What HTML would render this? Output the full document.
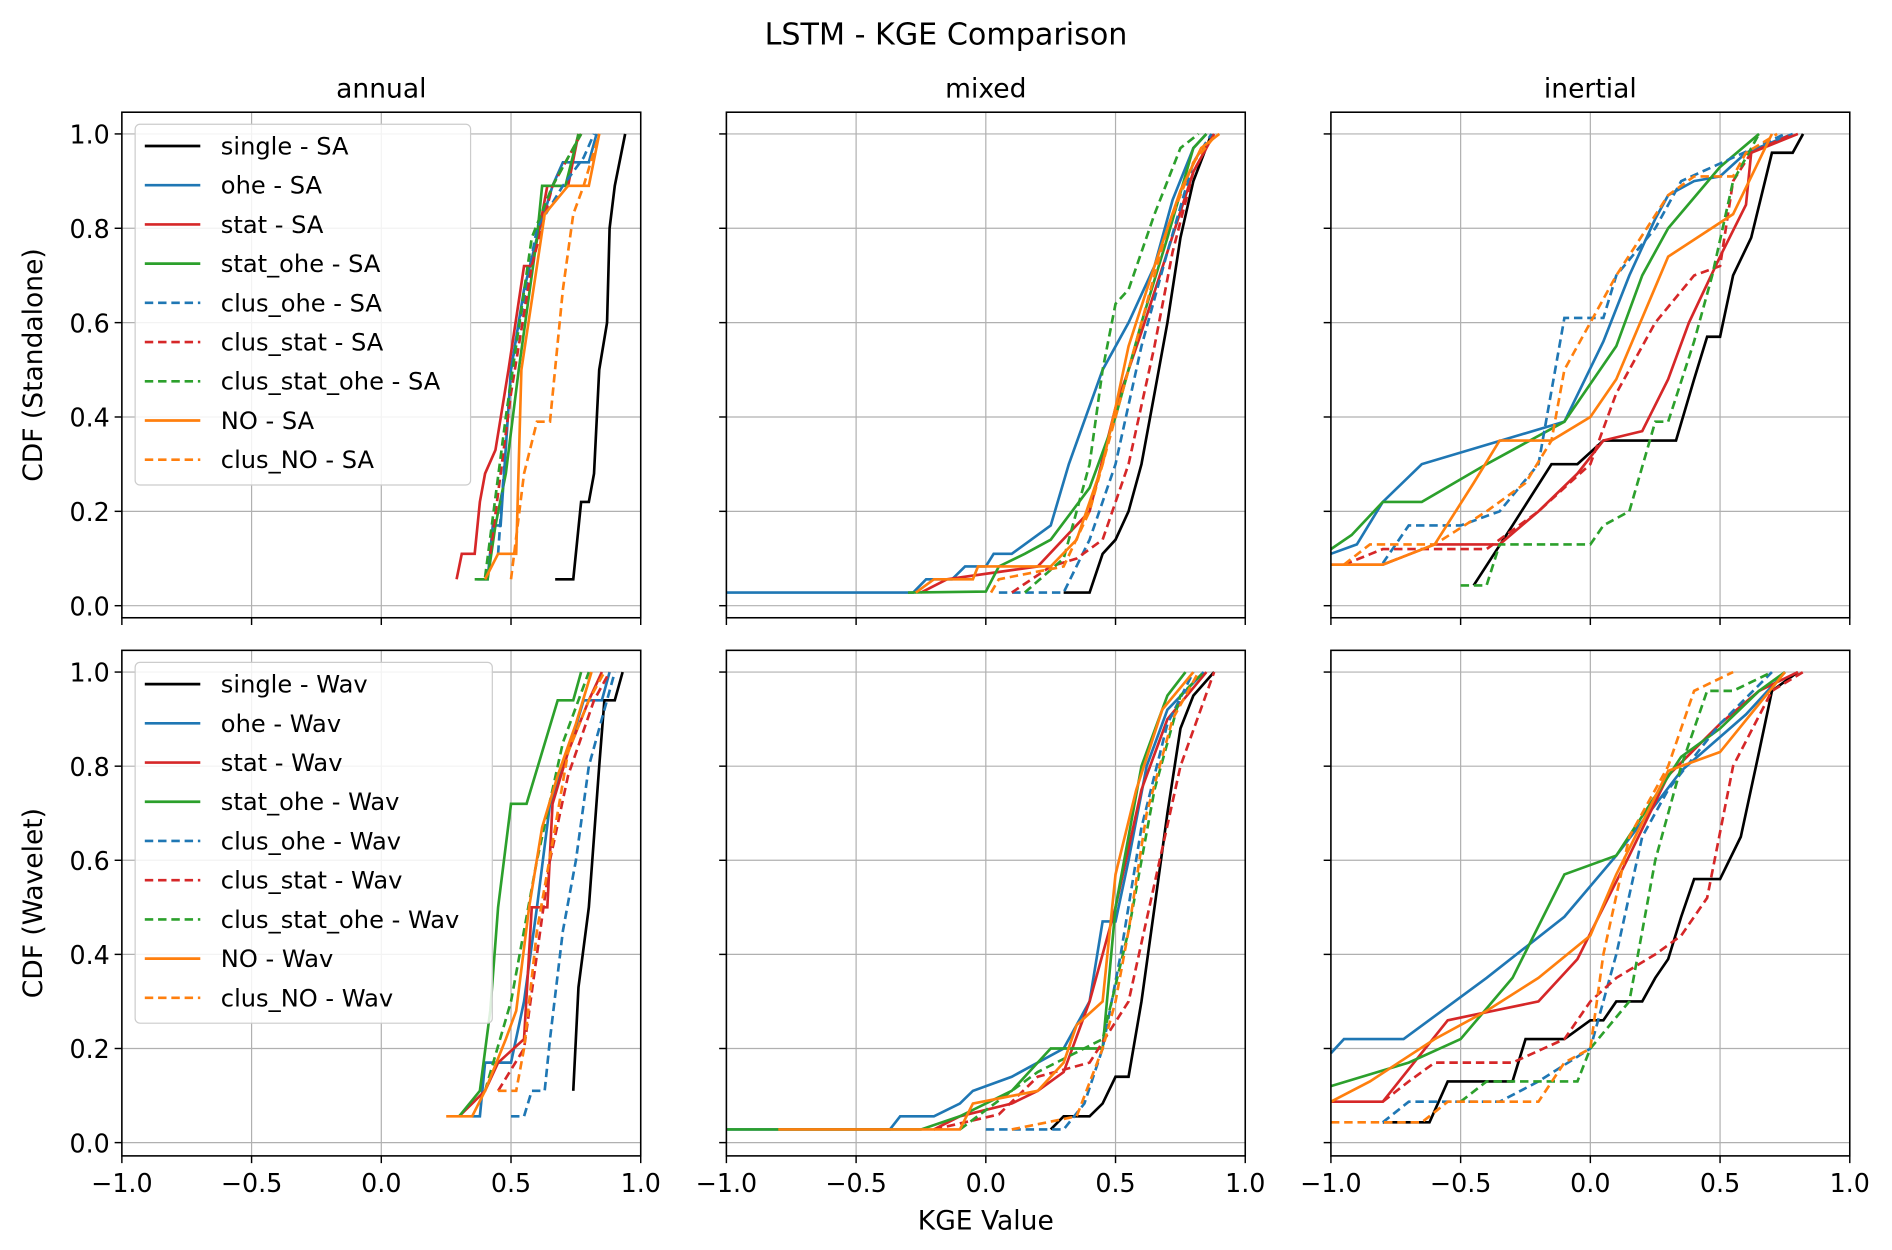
<!DOCTYPE html>
<html><head><meta charset="utf-8"><style>
html,body{margin:0;padding:0;background:#fff}
svg{display:block}
text{font-family:"DejaVu Sans","Liberation Sans",sans-serif;fill:#000}
</style></head><body>
<svg id="chart" width="1892" height="1250" viewBox="0 0 1568 1036" preserveAspectRatio="none" xmlns="http://www.w3.org/2000/svg">
<text x="784" y="37" font-size="25" text-anchor="middle">LSTM - KGE Comparison</text>
<g id="g"></g>
</svg>
<script>
// ---- data ----
const seriesNames = ["single","ohe","stat","stat_ohe","clus_ohe","clus_stat","clus_stat_ohe","NO","clus_NO"];
const seriesColors = ["#000000","#1f77b4","#d62728","#2ca02c","#1f77b4","#d62728","#2ca02c","#ff7f0e","#ff7f0e"];
const seriesDashed = [false,false,false,false,true,true,true,false,true];
const colTitles = ["annual","mixed","inertial"];
const rowTitles = ["CDF (Standalone)","CDF (Wavelet)"];
const rowSuffix = ["SA","Wav"];
const xTicks = [-1.0,-0.5,0.0,0.5,1.0];
const yTicks = [0.0,0.2,0.4,0.6,0.8,1.0];

const saAnnual = [
 [[0.67,0.056],[0.74,0.056],[0.77,0.22],[0.8,0.22],[0.82,0.28],[0.84,0.5],[0.87,0.6],[0.88,0.8],[0.9,0.89],[0.94,1.0]],
 [[0.37,0.056],[0.41,0.056],[0.43,0.17],[0.46,0.17],[0.5,0.5],[0.55,0.67],[0.6,0.78],[0.66,0.89],[0.7,0.94],[0.8,0.94],[0.83,1.0]],
 [[0.29,0.056],[0.31,0.11],[0.36,0.11],[0.38,0.22],[0.4,0.28],[0.44,0.33],[0.49,0.5],[0.55,0.72],[0.58,0.72],[0.62,0.83],[0.64,0.89],[0.72,0.89],[0.76,1.0]],
 [[0.36,0.056],[0.41,0.056],[0.44,0.17],[0.48,0.28],[0.53,0.5],[0.6,0.78],[0.62,0.89],[0.71,0.89],[0.76,1.0]],
 [[0.45,0.11],[0.5,0.5],[0.6,0.8],[0.7,0.89],[0.78,0.95],[0.82,1.0]],
 [[0.42,0.11],[0.5,0.45],[0.58,0.72],[0.66,0.89],[0.77,1.0]],
 [[0.4,0.06],[0.48,0.4],[0.58,0.78],[0.66,0.89],[0.77,1.0]],
 [[0.4,0.056],[0.45,0.11],[0.52,0.11],[0.54,0.5],[0.6,0.72],[0.63,0.83],[0.72,0.89],[0.8,0.89],[0.84,1.0]],
 [[0.5,0.056],[0.55,0.28],[0.6,0.39],[0.65,0.39],[0.7,0.67],[0.74,0.83],[0.78,0.89],[0.84,1.0]]
];
const saMixed = [
 [[0.3,0.028],[0.4,0.028],[0.45,0.11],[0.5,0.14],[0.55,0.2],[0.6,0.3],[0.65,0.45],[0.7,0.6],[0.75,0.78],[0.8,0.9],[0.87,1.0]],
 [[-1,0.028],[-0.28,0.028],[-0.23,0.056],[-0.13,0.056],[-0.08,0.083],[0,0.083],[0.03,0.11],[0.1,0.11],[0.25,0.17],[0.32,0.3],[0.45,0.5],[0.55,0.6],[0.65,0.72],[0.72,0.86],[0.8,0.97],[0.85,1.0]],
 [[-0.25,0.028],[-0.15,0.056],[0.2,0.083],[0.4,0.2],[0.5,0.42],[0.55,0.5],[0.6,0.58],[0.7,0.75],[0.8,0.92],[0.88,1.0]],
 [[-0.3,0.028],[0,0.03],[0.05,0.083],[0.15,0.11],[0.25,0.14],[0.4,0.25],[0.5,0.4],[0.6,0.6],[0.7,0.78],[0.8,0.97],[0.85,1.0]],
 [[0.05,0.028],[0.3,0.028],[0.4,0.14],[0.5,0.3],[0.6,0.55],[0.7,0.75],[0.8,0.94],[0.87,1.0]],
 [[0.1,0.028],[0.25,0.083],[0.35,0.1],[0.45,0.14],[0.55,0.3],[0.65,0.55],[0.72,0.75],[0.8,0.92],[0.88,1.0]],
 [[0.15,0.028],[0.3,0.1],[0.4,0.3],[0.45,0.5],[0.5,0.64],[0.55,0.67],[0.65,0.83],[0.75,0.97],[0.82,1.0]],
 [[-0.27,0.028],[-0.2,0.056],[-0.05,0.056],[-0.03,0.083],[0.25,0.083],[0.35,0.14],[0.45,0.3],[0.5,0.42],[0.55,0.55],[0.65,0.72],[0.75,0.88],[0.83,0.97],[0.9,1.0]],
 [[0.02,0.028],[0.05,0.056],[0.3,0.083],[0.4,0.2],[0.5,0.4],[0.6,0.6],[0.7,0.8],[0.8,0.94],[0.89,1.0]]
];
const saInertial = [
 [[-0.45,0.043],[-0.3,0.17],[-0.15,0.3],[-0.05,0.3],[0.05,0.35],[0.33,0.35],[0.4,0.48],[0.45,0.57],[0.5,0.57],[0.55,0.7],[0.62,0.78],[0.7,0.96],[0.78,0.96],[0.82,1.0]],
 [[-1,0.11],[-0.9,0.13],[-0.8,0.22],[-0.65,0.3],[-0.1,0.39],[0.05,0.56],[0.15,0.7],[0.25,0.82],[0.3,0.87],[0.4,0.9],[0.5,0.91],[0.6,0.96],[0.78,1.0]],
 [[-1,0.087],[-0.8,0.087],[-0.6,0.13],[-0.35,0.13],[-0.2,0.2],[-0.05,0.28],[0.05,0.35],[0.2,0.37],[0.3,0.48],[0.38,0.6],[0.5,0.74],[0.6,0.85],[0.62,0.96],[0.8,1.0]],
 [[-1,0.12],[-0.92,0.15],[-0.8,0.22],[-0.65,0.22],[-0.4,0.3],[-0.1,0.39],[0.1,0.55],[0.2,0.7],[0.3,0.8],[0.5,0.93],[0.65,1.0]],
 [[-0.8,0.09],[-0.7,0.17],[-0.5,0.17],[-0.35,0.2],[-0.2,0.3],[-0.1,0.61],[0.05,0.61],[0.1,0.7],[0.25,0.8],[0.35,0.9],[0.55,0.95],[0.75,1.0]],
 [[-0.95,0.087],[-0.8,0.12],[-0.4,0.12],[-0.2,0.2],[0,0.3],[0.1,0.45],[0.25,0.6],[0.4,0.7],[0.5,0.72],[0.55,0.9],[0.62,0.96],[0.78,1.0]],
 [[-0.5,0.043],[-0.4,0.043],[-0.35,0.13],[0,0.13],[0.05,0.17],[0.15,0.2],[0.25,0.39],[0.3,0.39],[0.4,0.56],[0.47,0.7],[0.55,0.9],[0.65,1.0]],
 [[-1,0.087],[-0.8,0.087],[-0.6,0.13],[-0.45,0.26],[-0.35,0.35],[-0.15,0.35],[0,0.4],[0.1,0.48],[0.3,0.74],[0.55,0.83],[0.7,1.0]],
 [[-0.95,0.087],[-0.85,0.13],[-0.6,0.13],[-0.4,0.2],[-0.25,0.26],[-0.15,0.35],[-0.1,0.5],[0,0.6],[0.1,0.7],[0.3,0.87],[0.4,0.91],[0.55,0.91],[0.6,0.96],[0.72,1.0]]
];
const wavAnnual = [
 [[0.74,0.11],[0.76,0.33],[0.8,0.5],[0.84,0.8],[0.86,0.94],[0.9,0.94],[0.93,1.0]],
 [[0.35,0.056],[0.38,0.056],[0.4,0.17],[0.5,0.17],[0.55,0.3],[0.6,0.5],[0.65,0.72],[0.72,0.83],[0.78,0.94],[0.85,0.94],[0.88,1.0]],
 [[0.3,0.056],[0.4,0.11],[0.45,0.17],[0.55,0.22],[0.58,0.5],[0.64,0.5],[0.66,0.72],[0.72,0.83],[0.8,0.94],[0.85,1.0]],
 [[0.3,0.056],[0.38,0.11],[0.42,0.28],[0.45,0.5],[0.5,0.72],[0.56,0.72],[0.62,0.83],[0.68,0.94],[0.74,0.94],[0.77,1.0]],
 [[0.5,0.056],[0.55,0.056],[0.58,0.11],[0.63,0.11],[0.65,0.22],[0.7,0.45],[0.75,0.6],[0.8,0.8],[0.9,1.0]],
 [[0.45,0.11],[0.55,0.2],[0.6,0.4],[0.65,0.6],[0.72,0.78],[0.82,0.94],[0.88,1.0]],
 [[0.4,0.11],[0.5,0.3],[0.6,0.6],[0.7,0.85],[0.8,1.0]],
 [[0.25,0.056],[0.35,0.056],[0.4,0.11],[0.48,0.22],[0.52,0.28],[0.57,0.5],[0.62,0.67],[0.68,0.78],[0.75,0.89],[0.81,1.0]],
 [[0.45,0.11],[0.52,0.11],[0.55,0.2],[0.6,0.45],[0.67,0.67],[0.72,0.83],[0.8,0.94],[0.86,1.0]]
];
const wavMixed = [
 [[0.25,0.028],[0.3,0.056],[0.4,0.056],[0.45,0.083],[0.5,0.14],[0.55,0.14],[0.6,0.3],[0.65,0.5],[0.7,0.7],[0.75,0.88],[0.8,0.95],[0.88,1.0]],
 [[-1,0.028],[-0.37,0.028],[-0.33,0.056],[-0.2,0.056],[-0.1,0.083],[-0.05,0.11],[0.1,0.14],[0.3,0.2],[0.4,0.3],[0.45,0.47],[0.5,0.47],[0.55,0.6],[0.62,0.8],[0.7,0.92],[0.84,1.0]],
 [[-0.2,0.028],[-0.1,0.056],[0.1,0.083],[0.2,0.11],[0.3,0.15],[0.4,0.3],[0.5,0.5],[0.6,0.75],[0.7,0.9],[0.85,1.0]],
 [[-1,0.028],[-0.25,0.028],[-0.1,0.056],[0.1,0.11],[0.2,0.17],[0.25,0.2],[0.45,0.2],[0.5,0.5],[0.6,0.8],[0.7,0.95],[0.77,1.0]],
 [[0,0.028],[0.3,0.028],[0.38,0.083],[0.45,0.2],[0.52,0.4],[0.6,0.67],[0.7,0.89],[0.8,1.0]],
 [[-0.2,0.028],[0.05,0.06],[0.2,0.14],[0.4,0.17],[0.55,0.3],[0.65,0.55],[0.75,0.8],[0.88,1.0]],
 [[-0.1,0.028],[0.1,0.11],[0.2,0.15],[0.45,0.22],[0.55,0.45],[0.65,0.75],[0.75,0.95],[0.84,1.0]],
 [[-0.8,0.028],[-0.1,0.028],[-0.05,0.083],[0.2,0.11],[0.3,0.17],[0.35,0.25],[0.45,0.3],[0.5,0.57],[0.58,0.75],[0.68,0.92],[0.8,1.0]],
 [[0.1,0.028],[0.35,0.056],[0.45,0.2],[0.5,0.3],[0.55,0.45],[0.62,0.7],[0.72,0.9],[0.82,1.0]]
];
const wavInertial = [
 [[-0.8,0.043],[-0.62,0.043],[-0.55,0.13],[-0.3,0.13],[-0.25,0.22],[-0.1,0.22],[0,0.26],[0.05,0.26],[0.1,0.3],[0.2,0.3],[0.25,0.35],[0.3,0.39],[0.35,0.48],[0.4,0.56],[0.5,0.56],[0.58,0.65],[0.65,0.83],[0.7,0.96],[0.8,1.0]],
 [[-1,0.19],[-0.95,0.22],[-0.72,0.22],[-0.4,0.35],[-0.1,0.48],[0.1,0.61],[0.35,0.79],[0.6,0.91],[0.75,1.0]],
 [[-1,0.087],[-0.8,0.087],[-0.55,0.26],[-0.2,0.3],[-0.05,0.39],[0.15,0.61],[0.3,0.78],[0.5,0.89],[0.65,0.96],[0.8,1.0]],
 [[-1,0.12],[-0.7,0.17],[-0.5,0.22],[-0.3,0.35],[-0.1,0.57],[0.1,0.61],[0.35,0.82],[0.5,0.88],[0.65,0.96],[0.75,1.0]],
 [[-0.8,0.043],[-0.7,0.087],[-0.35,0.087],[-0.2,0.13],[0,0.2],[0.1,0.4],[0.2,0.65],[0.3,0.75],[0.5,0.89],[0.7,1.0]],
 [[-0.8,0.087],[-0.7,0.13],[-0.6,0.17],[-0.3,0.17],[-0.1,0.22],[0,0.3],[0.1,0.35],[0.25,0.4],[0.35,0.44],[0.45,0.52],[0.55,0.8],[0.7,0.96],[0.82,1.0]],
 [[-0.5,0.087],[-0.4,0.13],[-0.05,0.13],[0,0.2],[0.15,0.3],[0.25,0.6],[0.35,0.8],[0.45,0.96],[0.55,0.96],[0.7,1.0]],
 [[-1,0.087],[-0.85,0.13],[-0.6,0.22],[-0.4,0.28],[-0.2,0.35],[0,0.44],[0.1,0.57],[0.3,0.79],[0.5,0.83],[0.75,1.0]],
 [[-1,0.043],[-0.65,0.043],[-0.55,0.087],[-0.2,0.087],[-0.1,0.17],[0,0.2],[0.05,0.4],[0.15,0.65],[0.3,0.8],[0.4,0.96],[0.55,1.0]]
];
const panelData = [[saAnnual,saMixed,saInertial],[wavAnnual,wavMixed,wavInertial]];

// ---- layout ----
const NS="http://www.w3.org/2000/svg";
const G=document.getElementById('g');
const colX=[101,602,1103], PW=430;
const rowY=[93,539], PH=419;
const rowY1=[111,557], rowY0=[502,947];
function mk(tag,attrs,parent){const e=document.createElementNS(NS,tag);for(const k in attrs)e.setAttribute(k,attrs[k]);(parent||G).appendChild(e);return e;}
function xs(c,v){return colX[c]+(v+1)/2*PW;}
function ys(r,v){return rowY0[r]+(rowY1[r]-rowY0[r])*v;}

for(let r=0;r<2;r++){for(let c=0;c<3;c++){
  const pg=mk('g',{});
  
  
  xTicks.forEach(t=>{const l=mk('line',{x1:xs(c,t),x2:xs(c,t),y1:rowY[r],y2:rowY[r]+PH,stroke:'#b0b0b0','stroke-width':1},pg);
    });
  yTicks.forEach(t=>{const l=mk('line',{x1:colX[c],x2:colX[c]+PW,y1:ys(r,t),y2:ys(r,t),stroke:'#b0b0b0','stroke-width':1},pg);
    });
  panelData[r][c].forEach((pts,i)=>{
    const d=pts.map((p,k)=>(k?'L':'M')+xs(c,p[0]).toFixed(1)+' '+ys(r,p[1]).toFixed(1)).join(' ');
    const a={d:d,fill:'none',stroke:seriesColors[i],'stroke-width':2.2};
    if(seriesDashed[i])a['stroke-dasharray']='7 4';
    const p=mk('path',a,pg);
    
    
  });
  const fr=mk('rect',{x:colX[c],y:rowY[r],width:PW,height:PH,fill:'none',stroke:'#000','stroke-width':1.3},pg);
  
  xTicks.forEach(t=>{mk('line',{x1:xs(c,t),x2:xs(c,t),y1:rowY[r]+PH,y2:rowY[r]+PH+6,stroke:'#000','stroke-width':1.2},pg);
    if(r===1){const tx=mk('text',{x:xs(c,t),y:rowY[r]+PH+30,'font-size':21,'text-anchor':'middle'},pg);
      tx.textContent=(t<0?'\u2212':'')+Math.abs(t).toFixed(1);
      }});
  yTicks.forEach(t=>{mk('line',{x1:colX[c]-6,x2:colX[c],y1:ys(r,t),y2:ys(r,t),stroke:'#000','stroke-width':1.2},pg);
    if(c===0){const tx=mk('text',{x:colX[c]-10,y:ys(r,t)+8,'font-size':21,'text-anchor':'end'},pg);
      tx.textContent=t.toFixed(1);
      }});
  if(r===0){const tt=mk('text',{x:colX[c]+PW/2,y:81,'font-size':22,'text-anchor':'middle'},pg);
    tt.textContent=colTitles[c];}
  if(c===0){const yc=rowY[r]+PH/2;const yt=mk('text',{x:0,y:0,'font-size':22,'text-anchor':'middle',transform:'translate(35,'+yc+') rotate(-90)'},pg);
    yt.textContent=rowTitles[r];}
  if(c===0){
    const lg=mk('g',{},pg);
    
    const lw=r===0?278:296;
    mk('rect',{x:112,y:rowY[r]+10,width:lw,height:299,rx:4,fill:'#fff','fill-opacity':0.85,stroke:'#ccc','stroke-width':1},lg);
    seriesNames.forEach((n,i)=>{
      const yy=rowY[r]+28+i*32.5;
      const e=mk('g',{},lg);
      
      const la={x1:120,x2:166,y1:yy,y2:yy,stroke:seriesColors[i],'stroke-width':2.2};
      if(seriesDashed[i])la['stroke-dasharray']='7 4';
      mk('line',la,e);
      const t=mk('text',{x:183,y:yy+7,'font-size':20},e);
      t.textContent=n+' - '+rowSuffix[r];
    });
  }
}}
const xl=mk('text',{x:817,y:1019,'font-size':22,'text-anchor':'middle'});
xl.textContent='KGE Value';


</script>
</body></html>
